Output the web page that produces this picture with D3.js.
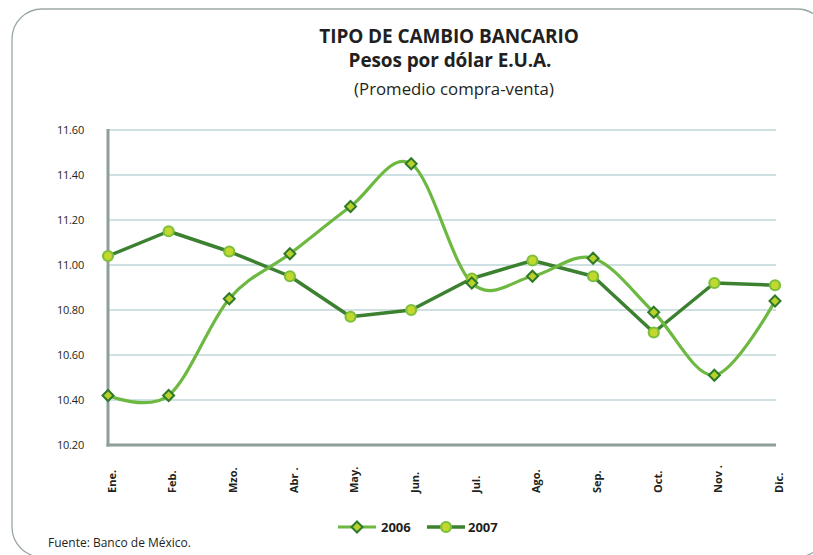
<!DOCTYPE html>
<html>
<head>
<meta charset="utf-8">
<script src="https://d3js.org/d3.v7.min.js"></script>
<style>
  body { margin: 0; background: #fff; }
  text { font-family: "Open Sans", sans-serif; fill: #231f20; }
</style>
</head>
<body>
<div id="graph"></div>
<script>

// data
var months = ["Ene.", "Feb.", "Mzo.", "Abr .", "May.", "Jun.", "Jul.", "Ago.", "Sep.", "Oct.", "Nov .", "Dic."];
var values2006 = [10.42, 10.42, 10.85, 11.05, 11.26, 11.45, 10.92, 10.95, 11.03, 10.79, 10.51, 10.84];
var values2007 = [11.04, 11.15, 11.06, 10.95, 10.77, 10.80, 10.94, 11.02, 10.95, 10.70, 10.92, 10.91];
var yTicks = [10.20, 10.40, 10.60, 10.80, 11.00, 11.20, 11.40, 11.60];

var W = 813, H = 555;
var plot = {left: 108, right: 775, top: 130, bottom: 445};

var svg = d3.select("#graph")
  .append("svg")
    .attr("width", W)
    .attr("height", H);

// rounded frame
svg.append("rect")
  .attr("x", 12).attr("y", 9)
  .attr("width", 815).attr("height", 548)
  .attr("rx", 30).attr("ry", 30)
  .attr("fill", "none")
  .attr("stroke", "#9aa8a4")
  .attr("stroke-width", 1.3);

// titles
svg.append("text")
  .attr("x", 449).attr("y", 43)
  .attr("text-anchor", "middle")
  .attr("font-size", "19px").attr("font-weight", "bold")
  .attr("letter-spacing", "-0.1px")
  .text("TIPO DE CAMBIO BANCARIO");
svg.append("text")
  .attr("x", 450).attr("y", 67)
  .attr("text-anchor", "middle")
  .attr("font-size", "19px").attr("font-weight", "bold")
  .attr("letter-spacing", "-0.1px")
  .text("Pesos por dólar E.U.A.");
svg.append("text")
  .attr("x", 454).attr("y", 95)
  .attr("text-anchor", "middle")
  .attr("font-size", "16.8px")
  .text("(Promedio compra-venta)");

// scales
var x = d3.scalePoint()
  .domain(months)
  .range([plot.left, plot.right])
  .padding(0);

var y = d3.scaleLinear()
  .domain([10.20, 11.60])
  .range([plot.bottom, plot.top]);

// grid lines
svg.append("g")
  .selectAll("line")
  .data(yTicks.slice(1))
  .enter()
  .append("line")
    .attr("x1", plot.left).attr("x2", plot.right + 1)
    .attr("y1", function(d) { return y(d); })
    .attr("y2", function(d) { return y(d); })
    .attr("stroke", "#cfe0e3")
    .attr("stroke-width", 2);

// y axis
var yAxis = svg.append("g")
  .attr("transform", "translate(" + plot.left + ",0)")
  .call(d3.axisLeft(y).tickValues(yTicks).tickFormat(d3.format(".2f")).tickSize(0).tickPadding(24));
yAxis.select(".domain").remove();
yAxis.selectAll("text")
  .attr("font-size", "11px")
  .attr("font-family", "Open Sans, sans-serif")
  .attr("fill", "#231f20")
  .attr("letter-spacing", "-0.2px");

// axis lines
svg.append("line")
  .attr("x1", plot.left).attr("x2", plot.left)
  .attr("y1", plot.top - 1).attr("y2", plot.bottom + 1.5)
  .attr("stroke", "#8e9e98").attr("stroke-width", 3);
svg.append("line")
  .attr("x1", plot.left - 1.5).attr("x2", plot.right + 1)
  .attr("y1", plot.bottom).attr("y2", plot.bottom)
  .attr("stroke", "#8e9e98").attr("stroke-width", 3);

// x labels (rotated)
svg.append("g")
  .selectAll("text")
  .data(months)
  .enter()
  .append("text")
    .attr("transform", function(d) { return "translate(" + (x(d) + 4) + ",493) rotate(-90)"; })
    .attr("dy", "0.35em")
    .attr("text-anchor", "start")
    .attr("font-size", "11px")
    .attr("font-weight", "bold")
    .text(function(d) { return d; });

// lines
var line2006 = d3.line()
  .x(function(d, i) { return x(months[i]); })
  .y(function(d) { return y(d); })
  .curve(d3.curveCardinal.tension(0));

var line2007 = d3.line()
  .x(function(d, i) { return x(months[i]); })
  .y(function(d) { return y(d); });

svg.append("path")
  .datum(values2007)
  .attr("d", line2007)
  .attr("fill", "none")
  .attr("stroke", "#3b8130")
  .attr("stroke-width", 3.5)
  .attr("stroke-linejoin", "round");

svg.append("path")
  .datum(values2006)
  .attr("d", line2006)
  .attr("fill", "none")
  .attr("stroke", "#6db840")
  .attr("stroke-width", 3.2);

// markers 2007 (circles)
svg.append("g")
  .selectAll("circle")
  .data(values2007)
  .enter()
  .append("circle")
    .attr("cx", function(d, i) { return x(months[i]); })
    .attr("cy", function(d) { return y(d); })
    .attr("r", 5)
    .attr("fill", "#c3d82c")
    .attr("stroke", "#7cbf3e")
    .attr("stroke-width", 2.2);

// markers 2006 (diamonds)
var diamond = "M0,-5.5L5.5,0L0,5.5L-5.5,0Z";
svg.append("g")
  .selectAll("path")
  .data(values2006)
  .enter()
  .append("path")
    .attr("d", diamond)
    .attr("transform", function(d, i) { return "translate(" + x(months[i]) + "," + y(d) + ")"; })
    .attr("fill", "#b9d12b")
    .attr("stroke", "#2f7a2a")
    .attr("stroke-width", 2);

// legend
var lg = svg.append("g");
lg.append("line")
  .attr("x1", 338).attr("x2", 376).attr("y1", 527).attr("y2", 527)
  .attr("stroke", "#6db840").attr("stroke-width", 3.2);
lg.append("path")
  .attr("d", diamond)
  .attr("transform", "translate(357,527)")
  .attr("fill", "#b9d12b").attr("stroke", "#2f7a2a").attr("stroke-width", 2);
lg.append("text")
  .attr("x", 381).attr("y", 531.5)
  .attr("font-size", "13px").attr("font-weight", "bold")
  .text("2006");
lg.append("line")
  .attr("x1", 427).attr("x2", 465).attr("y1", 527).attr("y2", 527)
  .attr("stroke", "#3b8130").attr("stroke-width", 3.5);
lg.append("circle")
  .attr("cx", 446).attr("cy", 527).attr("r", 5)
  .attr("fill", "#c3d82c").attr("stroke", "#7cbf3e").attr("stroke-width", 2.2);
lg.append("text")
  .attr("x", 468).attr("y", 531.5)
  .attr("font-size", "13px").attr("font-weight", "bold")
  .text("2007");

// source
svg.append("text")
  .attr("x", 48).attr("y", 547)
  .attr("font-size", "12px")
  .text("Fuente: Banco de México.");

</script>
</body>
</html>
